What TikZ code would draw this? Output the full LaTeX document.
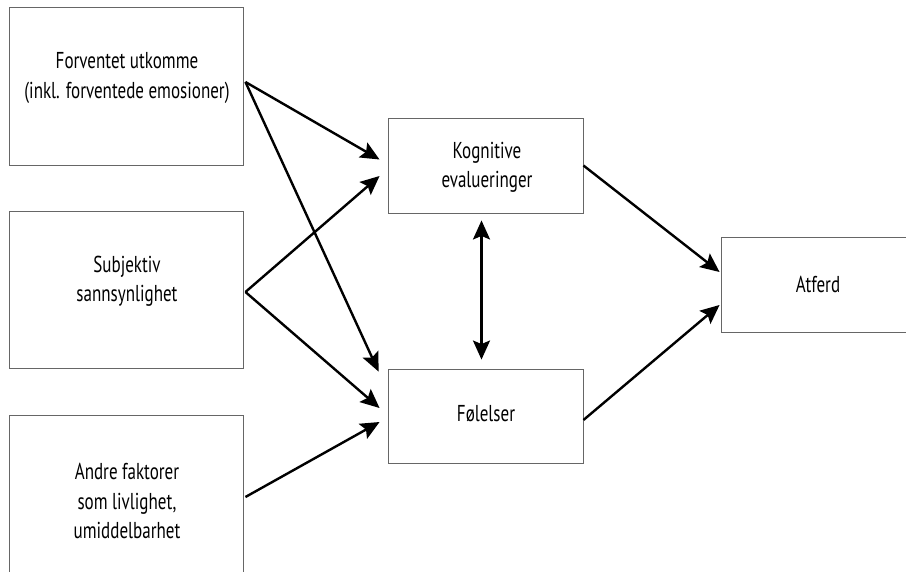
\documentclass[tikz,border=0pt]{standalone}
\usepackage{fontspec}
\setmainfont{PT Sans}[FakeStretch=0.74]
\usetikzlibrary{arrows.meta,calc}
\begin{document}
\begin{tikzpicture}[x=1pt,y=-1pt,
  box/.style={draw=black!60,line width=0.9pt,fill=none,inner sep=0pt},
  lbl/.style={align=center,text=black,font=\fontsize{23}{29.5}\selectfont,inner sep=0pt},
  conn/.style={line width=2.4pt,-{Stealth[length=19pt,width=17pt,inset=3.5pt]}},
  both/.style={line width=2.4pt,{Stealth[length=19pt,width=17pt,inset=3.5pt]}-{Stealth[length=19pt,width=17pt,inset=3.5pt]}}]
\useasboundingbox (0,0) rectangle (906,571);
% boxes
\node[box,minimum width=234pt,minimum height=158pt] (b1) at (126,86) {};
\node[box,minimum width=234pt,minimum height=157pt] (b2) at (126,289.5) {};
\node[box,minimum width=234pt,minimum height=174pt] (b3) at (126,502) {};
\node[box,minimum width=195pt,minimum height=95pt] (k) at (485.5,165.5) {};
\node[box,minimum width=195pt,minimum height=94pt] (f) at (485.5,416) {};
\node[box,minimum width=194pt,minimum height=95pt] (a) at (818,284.5) {};
% texts
\node[lbl] (t1) at (127,78) {Forventet utkomme\\(inkl. forventede emosioner)};
\node[lbl] (t2) at (127,281) {Subjektiv\\sannsynlighet};
\node[lbl] (t3) at (127,501) {Andre faktorer\\som livlighet,\\umiddelbarhet};
\node[lbl] (tk) at (487,167.5) {Kognitive\\evalueringer};
\node[lbl] (tf) at (486,414) {Følelser};
\node[lbl] (ta) at (818,284) {Atferd};
% end points
\coordinate (s1) at ($(b1.east)+(2,-4)$);
\coordinate (s2) at ($(b2.east)+(2,2.5)$);
\coordinate (s3) at ($(b3.east)+(2,-5)$);
\coordinate (k1) at ($(k.west)+(-8,-6)$);
\coordinate (k2) at ($(k.west)+(-8,10.5)$);
\coordinate (f1) at ($(f.north west)+(-9,3)$);
\coordinate (f2) at ($(f.west)+(-8,-8)$);
\coordinate (f3) at ($(f.west)+(-8,6)$);
\coordinate (ks) at ($(k.east)+(0,0)$);
\coordinate (fs) at ($(f.east)+(0,4)$);
\coordinate (a1) at ($(a.west)+(-1,-12.5)$);
\coordinate (a2) at ($(a.west)+(-1,20.5)$);
\coordinate (dk) at ($(k.south)+(-4,7)$);
\coordinate (df) at ($(f.north)+(-4,-9)$);
% connectors
\draw[conn] (s1) -- (k1);
\draw[conn] (s1) -- (f1);
\draw[conn] (s2) -- (k2);
\draw[conn] (s2) -- (f2);
\draw[conn] (s3) -- (f3);
\draw[conn] (ks) -- (a1);
\draw[conn] (fs) -- (a2);
\draw[both] (dk) -- (df);
\end{tikzpicture}
\end{document}
